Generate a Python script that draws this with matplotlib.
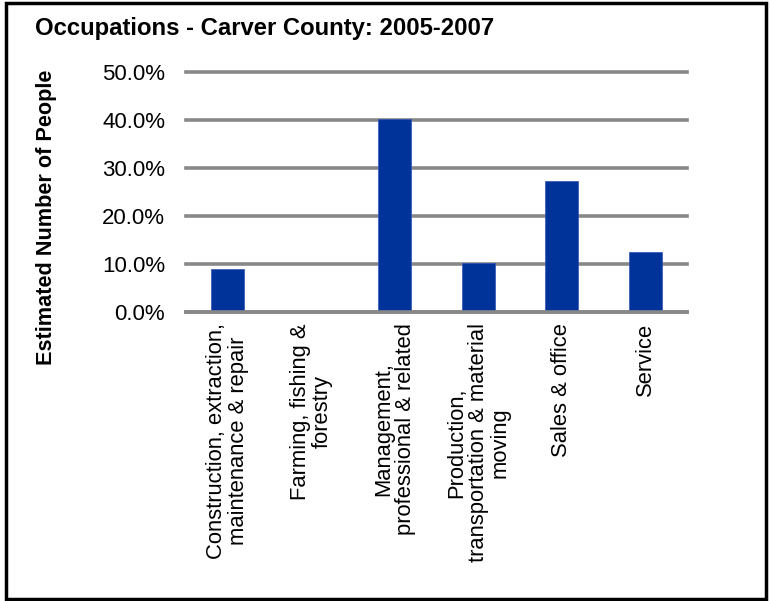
import matplotlib
matplotlib.use("Agg")
import matplotlib.pyplot as plt
from matplotlib.patches import Rectangle
from matplotlib.ticker import FuncFormatter

categories = [
    "Construction, extraction,\nmaintenance & repair",
    "Farming, fishing &\nforestry",
    "Management,\nprofessional & related",
    "Production,\ntransportation & material\nmoving",
    "Sales & office",
    "Service",
]
values = [9.0, 0.2, 40.2, 10.2, 27.2, 12.6]
yticks = [0, 10, 20, 30, 40, 50]

plt.rcParams['font.family'] = ['Liberation Sans', 'DejaVu Sans']

W, H = 770, 601
fig = plt.figure(figsize=(W/100, H/100), dpi=100)
ax = fig.add_axes([186/W, 1-312/H, (687-186)/W, (312-72)/H])

x = list(range(len(categories)))
ax.bar(x, values, width=0.39, color='#003399', edgecolor='#2f54b8', linewidth=0.5, zorder=2)
ax.set_xlim(-0.5, len(categories)-0.5)
ax.set_ylim(0, 50)
ax.set_yticks(yticks)
ax.yaxis.set_major_formatter(FuncFormatter(lambda v, p: f"{v:.1f}%"))
ax.grid(axis='y', color='#888888', linewidth=2.6, zorder=1)
ax.set_axisbelow(True)
for gl in ax.get_ygridlines():
    gl.set_clip_on(False)
for s in ['top', 'right', 'left']:
    ax.spines[s].set_visible(False)
ax.spines['bottom'].set_color('#888888')
ax.spines['bottom'].set_linewidth(2.6)
ax.spines['bottom'].set_zorder(3)
ax.tick_params(axis='y', length=0, pad=15, labelsize=16)
ax.tick_params(axis='x', length=0, pad=8, labelsize=15.8)
ax.set_xticks(x)
ax.set_xticklabels(categories, rotation=90, ha='center', va='top', multialignment='center',
                   linespacing=1.05)

fig.text(35/W, 1-28/H, "Occupations - Carver County: 2005-2007", fontsize=17.2, fontweight='bold', ha='left', va='center')
fig.text(47/W, 1-217/H, "Estimated Number of People", fontsize=15.6, fontweight='bold', rotation=90, ha='center', va='center')

fig.patches.append(Rectangle((6.5/W, 2.5/H), (766-6.5)/W, (598.5-2.5)/H, transform=fig.transFigure,
                             fill=False, edgecolor='black', linewidth=2.5))

fig.savefig("out.png", dpi=100)
